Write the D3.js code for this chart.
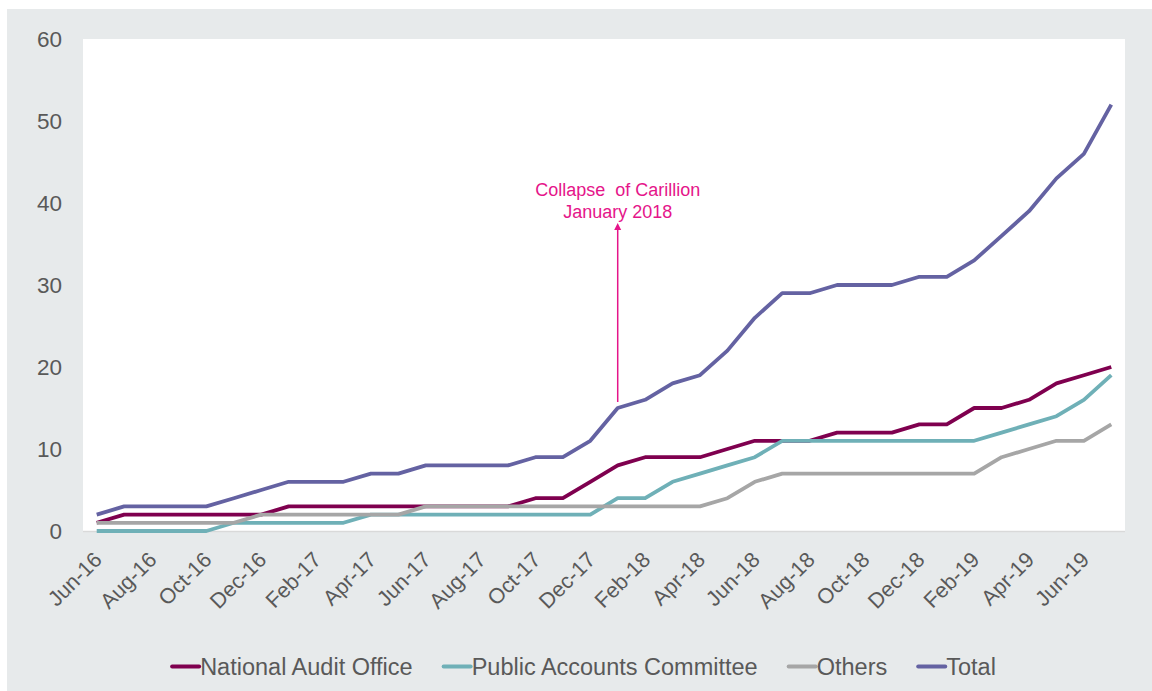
<!DOCTYPE html>
<html>
<head>
<meta charset="utf-8">
<script src="https://cdn.jsdelivr.net/npm/d3@7"></script>
<style>
  html, body { margin: 0; padding: 0; background: #ffffff; }
  svg { display: block; }
  text { font-family: "Liberation Sans", Arial, sans-serif; }
</style>
</head>
<body>
<svg id="chart" width="1152" height="691"></svg>
<script>
// ---- data ----
const months = ["Jun-16","Jul-16","Aug-16","Sep-16","Oct-16","Nov-16","Dec-16",
  "Jan-17","Feb-17","Mar-17","Apr-17","May-17","Jun-17","Jul-17","Aug-17","Sep-17","Oct-17","Nov-17","Dec-17",
  "Jan-18","Feb-18","Mar-18","Apr-18","May-18","Jun-18","Jul-18","Aug-18","Sep-18","Oct-18","Nov-18","Dec-18",
  "Jan-19","Feb-19","Mar-19","Apr-19","May-19","Jun-19","Jul-19"];
const tickLabels = ["Jun-16","Aug-16","Oct-16","Dec-16","Feb-17","Apr-17","Jun-17","Aug-17","Oct-17","Dec-17",
  "Feb-18","Apr-18","Jun-18","Aug-18","Oct-18","Dec-18","Feb-19","Apr-19","Jun-19"];
const yTicks = [0, 10, 20, 30, 40, 50, 60];
const nationalAuditOffice = [1,2,2,2,2,2,2, 3,3,3,3,3,3,3,3,3,4,4,6, 8,9,9,9,10,11,11,11,12,12,12,13, 13,15,15,16,18,19,20];
const publicAccountsCommittee = [0,0,0,0,0,1,1, 1,1,1,2,2,2,2,2,2,2,2,2, 4,4,6,7,8,9,11,11,11,11,11,11, 11,11,12,13,14,16,19];
const others = [1,1,1,1,1,1,2, 2,2,2,2,2,3,3,3,3,3,3,3, 3,3,3,3,4,6,7,7,7,7,7,7, 7,7,9,10,11,11,13];
const total = [2,3,3,3,3,4,5, 6,6,6,7,7,8,8,8,8,9,9,11, 15,16,18,19,22,26,29,29,30,30,30,31, 31,33,36,39,43,46,52];
const seriesNames = ["National Audit Office", "Public Accounts Committee", "Others", "Total"];
const annotationLines = ["Collapse  of Carillion", "January 2018"];
const annotationMonth = "Jan-18";

// ---- styles / layout ----
const colors = ["#7f004f", "#6fb0b7", "#a6a6a6", "#6462a2"];
const seriesValues = [nationalAuditOffice, publicAccountsCommittee, others, total];
const textColor = "#595959";
const plot = { left: 83, right: 1125, top: 39, bottom: 531 };

const svg = d3.select("#chart");

// outer background
svg.append("rect").attr("x", 7).attr("y", 9).attr("width", 1152 - 7).attr("height", 691 - 9).attr("fill", "#e7eaeb");
// plot area
svg.append("rect").attr("x", plot.left).attr("y", plot.top)
  .attr("width", plot.right - plot.left).attr("height", plot.bottom - plot.top).attr("fill", "#ffffff");

const x = d3.scalePoint().domain(months).range([plot.left, plot.right]).padding(0.5);
const y = d3.scaleLinear().domain([0, 60]).range([plot.bottom, plot.top]);

// x axis
const xAxis = d3.axisBottom(x).tickValues(tickLabels).tickSize(0).tickFormat(d => d);
const gx = svg.append("g").attr("transform", `translate(0,${plot.bottom})`).call(xAxis);
gx.select(".domain").attr("stroke", "#d9d9d9").attr("stroke-width", 1.5)
  .attr("d", `M${plot.left},0.5H${plot.right}`);
gx.selectAll(".tick text")
  .attr("fill", textColor)
  .attr("font-size", "21.5px")
  .attr("font-family", "Liberation Sans, Arial, sans-serif")
  .attr("text-anchor", "end")
  .attr("dy", null)
  .attr("y", 0)
  .attr("transform", "translate(6,30) rotate(-45)");

// y axis labels
const yAxis = d3.axisLeft(y).tickValues(yTicks).tickSize(0).tickPadding(0);
const gy = svg.append("g").attr("transform", `translate(62,0)`).call(yAxis);
gy.select(".domain").remove();
gy.selectAll(".tick text")
  .attr("fill", textColor)
  .attr("font-size", "22.5px")
  .attr("font-family", "Liberation Sans, Arial, sans-serif")
  .attr("x", 0);

// lines
const line = d3.line().x((d, i) => x(months[i])).y(d => y(d));
seriesValues.forEach((vals, k) => {
  svg.append("path").datum(vals)
    .attr("fill", "none")
    .attr("stroke", colors[k])
    .attr("stroke-width", 3.8)
    .attr("stroke-linejoin", "round")
    .attr("stroke-linecap", "butt")
    .attr("d", line);
});

// annotation
const annColor = "#e5158a";
const ax = x(annotationMonth);
const annIdx = months.indexOf(annotationMonth);
const arrowBottom = y(total[annIdx]) - 6;
const arrowTip = 223;
svg.append("line").attr("x1", ax).attr("x2", ax).attr("y1", arrowBottom).attr("y2", arrowTip + 5)
  .attr("stroke", annColor).attr("stroke-width", 1.5);
svg.append("path")
  .attr("d", `M${ax},${arrowTip} L${ax - 3.5},${arrowTip + 7} L${ax + 3.5},${arrowTip + 7} Z`)
  .attr("fill", annColor);
annotationLines.forEach((t, i) => {
  svg.append("text").attr("x", ax).attr("y", 196 + i * 22)
    .attr("text-anchor", "middle").attr("fill", annColor)
    .attr("xml:space", "preserve").style("white-space", "pre")
    .attr("font-size", "18px").text(t);
});

// legend
const legend = svg.append("g");
const markerW = 27, textGap = 1, itemGap = 31, legendY = 666.5, legendCenter = 584;
let cursor = 0;
const items = [];
seriesNames.forEach((name, k) => {
  const g = legend.append("g");
  g.append("line").attr("x1", 0).attr("x2", markerW).attr("y1", legendY).attr("y2", legendY)
    .attr("stroke", colors[k]).attr("stroke-width", 4).attr("stroke-linecap", "round");
  const t = g.append("text").attr("x", markerW + textGap).attr("y", legendY + 8.5)
    .attr("fill", textColor).attr("font-size", "23.5px").text(name);
  const w = t.node().getComputedTextLength();
  items.push({ g, start: cursor });
  cursor += markerW + textGap + w + itemGap;
});
const legendWidth = cursor - itemGap;
const legendStart = legendCenter - legendWidth / 2;
items.forEach(it => it.g.attr("transform", `translate(${legendStart + it.start},0)`));
</script>
</body>
</html>
